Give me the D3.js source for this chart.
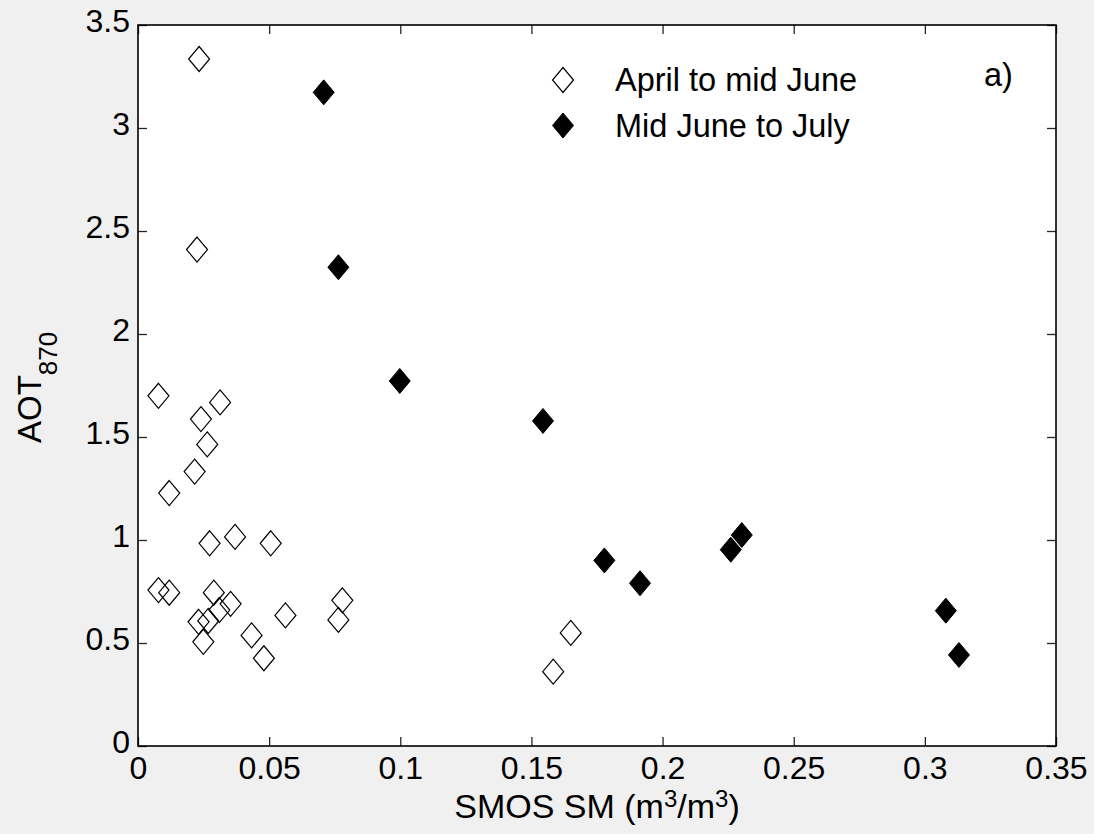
<!DOCTYPE html>
<html>
<head>
<meta charset="utf-8">
<script src="https://cdn.jsdelivr.net/npm/d3@7"></script>
<style>
  html, body { margin: 0; padding: 0; background: #f0f0f0; }
  svg { display: block; font-family: "Liberation Sans", Arial, sans-serif; }
</style>
</head>
<body>
<svg id="chart" width="1094" height="834"></svg>
<script>
// ---- data ----
const aprilX = [0.0233, 0.0225, 0.0078, 0.0240, 0.0313, 0.0264, 0.0216, 0.0119, 0.0273, 0.0370, 0.0506,
                0.0078, 0.0119, 0.0289, 0.0353, 0.0310, 0.0231, 0.0268, 0.0249, 0.0433, 0.0480,
                0.0562, 0.0779, 0.0764, 0.1583, 0.1650];
const aprilY = [3.335, 2.410, 1.700, 1.587, 1.668, 1.464, 1.332, 1.228, 0.984, 1.015, 0.984,
                0.757, 0.744, 0.744, 0.690, 0.660, 0.603, 0.607, 0.506, 0.537, 0.426,
                0.634, 0.707, 0.612, 0.361, 0.549];
const juneX = [0.0708, 0.0764, 0.0998, 0.1544, 0.1778, 0.1914, 0.2260, 0.2302, 0.3080, 0.3130];
const juneY = [3.173, 2.324, 1.772, 1.578, 0.901, 0.790, 0.953, 1.024, 0.657, 0.442];
const xTicks = [0, 0.05, 0.1, 0.15, 0.2, 0.25, 0.3, 0.35];
const xTickLabels = ["0", "0.05", "0.1", "0.15", "0.2", "0.25", "0.3", "0.35"];
const yTicks = [0, 0.5, 1, 1.5, 2, 2.5, 3, 3.5];
const yTickLabels = ["0", "0.5", "1", "1.5", "2", "2.5", "3", "3.5"];
const seriesNames = ["April to mid June", "Mid June to July"];

// ---- layout ----
const svg = d3.select("#chart");
const L = 138, R = 1056, T = 25, B = 746;
const x = d3.scaleLinear().domain([0, 0.35]).range([L, R]);
const y = d3.scaleLinear().domain([0, 3.5]).range([B, T]);
const FS = 32;
const TL = 9;

svg.append("rect").attr("x", L).attr("y", T).attr("width", R - L).attr("height", B - T)
  .attr("fill", "#fff");

function diamond(cx, cy) {
  const hw = 10.5, hh = 12.5;
  return `M${cx},${cy - hh}L${cx + hw},${cy}L${cx},${cy + hh}L${cx - hw},${cy}Z`;
}

// axes
const ax = svg.append("g").attr("class", "axes");
ax.append("g").attr("transform", `translate(0,${B})`)
  .call(d3.axisBottom(x).tickValues(xTicks).tickFormat((d, i) => xTickLabels[i]).tickSizeInner(-TL).tickSizeOuter(0).tickPadding(10));
ax.append("g").attr("transform", `translate(0,${T})`)
  .call(d3.axisTop(x).tickValues(xTicks).tickFormat("").tickSizeInner(-TL).tickSizeOuter(0));
const yAxisG = ax.append("g").attr("transform", `translate(${L},0)`)
  .call(d3.axisLeft(y).tickValues(yTicks).tickFormat((d, i) => yTickLabels[i]).tickSizeInner(-TL).tickSizeOuter(0).tickPadding(8));
ax.append("g").attr("transform", `translate(${R},0)`)
  .call(d3.axisRight(y).tickValues(yTicks).tickFormat("").tickSizeInner(-TL).tickSizeOuter(0));

ax.selectAll(".domain").remove();
ax.selectAll(".tick line").attr("stroke", "#262626").attr("stroke-width", 1.3);
ax.selectAll(".tick text").attr("font-size", FS).attr("fill", "#000")
  .attr("font-family", "'Liberation Sans', Arial, sans-serif");
yAxisG.selectAll(".tick text").attr("dy", "0.21em");

// frame
svg.append("rect").attr("x", L).attr("y", T).attr("width", R - L).attr("height", B - T)
  .attr("fill", "none").attr("stroke", "#000").attr("stroke-width", 1.6);

// points
const aprilData = aprilX.map((v, i) => ({ x: v, y: aprilY[i] }));
const juneData = juneX.map((v, i) => ({ x: v, y: juneY[i] }));

svg.append("g").selectAll("path").data(aprilData).join("path")
  .attr("d", d => diamond(x(d.x), y(d.y)))
  .attr("fill", "none").attr("stroke", "#000").attr("stroke-width", 1.2);

svg.append("g").selectAll("path").data(juneData).join("path")
  .attr("d", d => diamond(x(d.x), y(d.y)))
  .attr("fill", "#000").attr("stroke", "#000").attr("stroke-width", 1);

// legend
const lg = svg.append("g");
lg.append("path").attr("d", diamond(563, 80)).attr("fill", "none").attr("stroke", "#000").attr("stroke-width", 1.2);
lg.append("path").attr("d", diamond(563, 125.5)).attr("fill", "#000").attr("stroke", "#000");
lg.append("text").attr("x", 615).attr("y", 91).attr("font-size", 32.5).text(seriesNames[0]);
lg.append("text").attr("x", 615).attr("y", 137).attr("font-size", 32.5).text(seriesNames[1]);

// panel label
svg.append("text").attr("x", 984).attr("y", 86).attr("font-size", 32.5).text("a)");

// x label
const xl = svg.append("text").attr("x", (L + R) / 2).attr("y", 818).attr("text-anchor", "middle")
  .attr("font-size", 34);
xl.append("tspan").text("SMOS SM (m");
xl.append("tspan").attr("dy", -11).attr("font-size", 24).text("3");
xl.append("tspan").attr("dy", 11).text("/m");
xl.append("tspan").attr("dy", -11).attr("font-size", 24).text("3");
xl.append("tspan").attr("dy", 11).text(")");

// y label
const yl = svg.append("text").attr("transform", `translate(41,443) rotate(-90)`)
  .attr("text-anchor", "start").attr("font-size", 33);
yl.append("tspan").text("AOT");
yl.append("tspan").attr("dy", 16).attr("font-size", 26).text("870");
</script>
</body>
</html>
